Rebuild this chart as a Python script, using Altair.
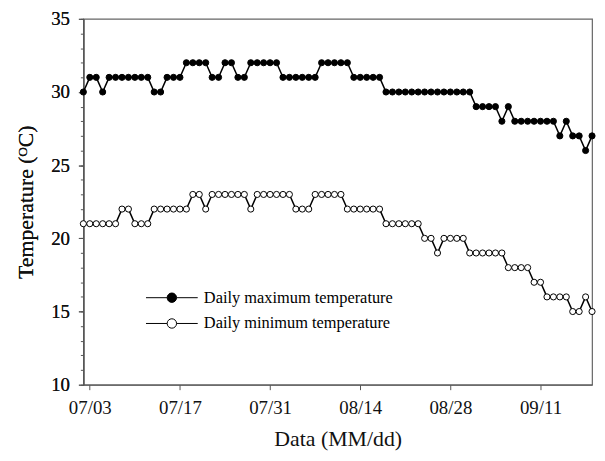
import altair as alt
import pandas as pd

# ---------------- data ----------------
first_day = "2019-07-02"
series_names = ["Daily maximum temperature", "Daily minimum temperature"]
tick_labels = ["07/03", "07/17", "07/31", "08/14", "08/28", "09/11"]
y_major = [10, 15, 20, 25, 30, 35]
y_minor = list(range(10, 36))

tmax = [30, 31, 31, 30, 31, 31, 31, 31, 31, 31, 31, 30, 30, 31, 31, 31, 32, 32, 32, 32,
        31, 31, 32, 32, 31, 31, 32, 32, 32, 32, 32, 31, 31, 31, 31, 31, 31, 32, 32, 32,
        32, 32, 31, 31, 31, 31, 31, 30, 30, 30, 30, 30, 30, 30, 30, 30, 30, 30, 30, 30,
        30, 29, 29, 29, 29, 28, 29, 28, 28, 28, 28, 28, 28, 28, 27, 28, 27, 27, 26, 27]

tmin = [21, 21, 21, 21, 21, 21, 22, 22, 21, 21, 21, 22, 22, 22, 22, 22, 22, 23, 23, 22,
        23, 23, 23, 23, 23, 23, 22, 23, 23, 23, 23, 23, 23, 22, 22, 22, 23, 23, 23, 23,
        23, 22, 22, 22, 22, 22, 22, 21, 21, 21, 21, 21, 21, 20, 20, 19, 20, 20, 20, 20,
        19, 19, 19, 19, 19, 19, 18, 18, 18, 18, 17, 17, 16, 16, 16, 16, 15, 15, 16, 15]

dates = list(pd.date_range(first_day, periods=len(tmax), freq="D").strftime("%Y/%m/%d"))
df = pd.DataFrame({
    "date": dates * 2,
    "series": [series_names[0]] * len(tmax) + [series_names[1]] * len(tmin),
    "temp": tmax + tmin,
})

year = 2019
tick_values = [alt.DateTime(year=year, month=int(t[:2]), date=int(t[3:])) for t in tick_labels]
d0 = pd.Timestamp(first_day)
d1 = d0 + pd.Timedelta(days=len(tmax) - 1)
x_domain = [alt.DateTime(year=d0.year, month=d0.month, date=d0.day),
            alt.DateTime(year=d1.year, month=d1.month, date=d1.day)]

FONT = "Liberation Serif"
legend_path = "M-1,0A1,1 0 1,1 1,0A1,1 0 1,1 -1,0Z M-5.5,0H-1 M1,0H5.5"

x_enc = alt.X("date:T",
              scale=alt.Scale(domain=x_domain),
              axis=alt.Axis(values=tick_values, format="%m/%d", title="Data (MM/dd)",
                            tickSize=5, labelPadding=9, titlePadding=11, grid=False,
                            labelFontSize=19, titleFontSize=22, labelFlush=False))
y_enc = alt.Y("temp:Q",
              scale=alt.Scale(domain=[10, 35], nice=False, zero=False),
              axis=alt.Axis(values=y_major, title="Temperature (ᴼC)", tickSize=5,
                            labelPadding=9, titlePadding=13, grid=False,
                            labelFontSize=19, titleFontSize=22, orient="left"))

minor = alt.Chart(df).mark_point(opacity=0).encode(
    x=x_enc,
    y=alt.Y("temp:Q", axis=alt.Axis(values=y_minor, labels=False, tickSize=3,
                                    domain=False, title=None, orient="left", grid=False)),
)

lines = alt.Chart(df).mark_line(color="black", strokeWidth=1.5).encode(
    x=x_enc, y=y_enc, detail="series:N"
)

points = alt.Chart(df).mark_point(shape="circle", size=38, filled=True, stroke="black",
                                  strokeWidth=1, opacity=1).encode(
    x=x_enc, y=y_enc,
    fill=alt.Fill("series:N",
                  scale=alt.Scale(domain=series_names, range=["black", "white"]),
                  legend=alt.Legend(title=None, orient="none", legendX=81, legendY=273,
                                    symbolType=legend_path, symbolSize=90,
                                    symbolStrokeColor="black", symbolStrokeWidth=1,
                                    labelFontSize=16.5, labelOffset=24, rowPadding=9,
                                    labelLimit=0, padding=0, labelFont=FONT,
                                    labelColor="black")),
)

chart = alt.layer(minor, lines, points).resolve_axis(y="independent").properties(
    width=513, height=369,
    autosize=alt.AutoSizeParams(type="none"),
    padding={"left": 76, "top": 9, "right": 5, "bottom": 72},
).configure(font=FONT).configure_view(
    stroke="#666", strokeWidth=1.2
).configure_axis(
    domainColor="#555", tickColor="#555", labelColor="#111", titleColor="#111",
    labelFont=FONT, titleFont=FONT, titleFontWeight="normal", domainWidth=1.2
)

chart.save("out.html", embed_options={"renderer": "svg", "actions": False})
